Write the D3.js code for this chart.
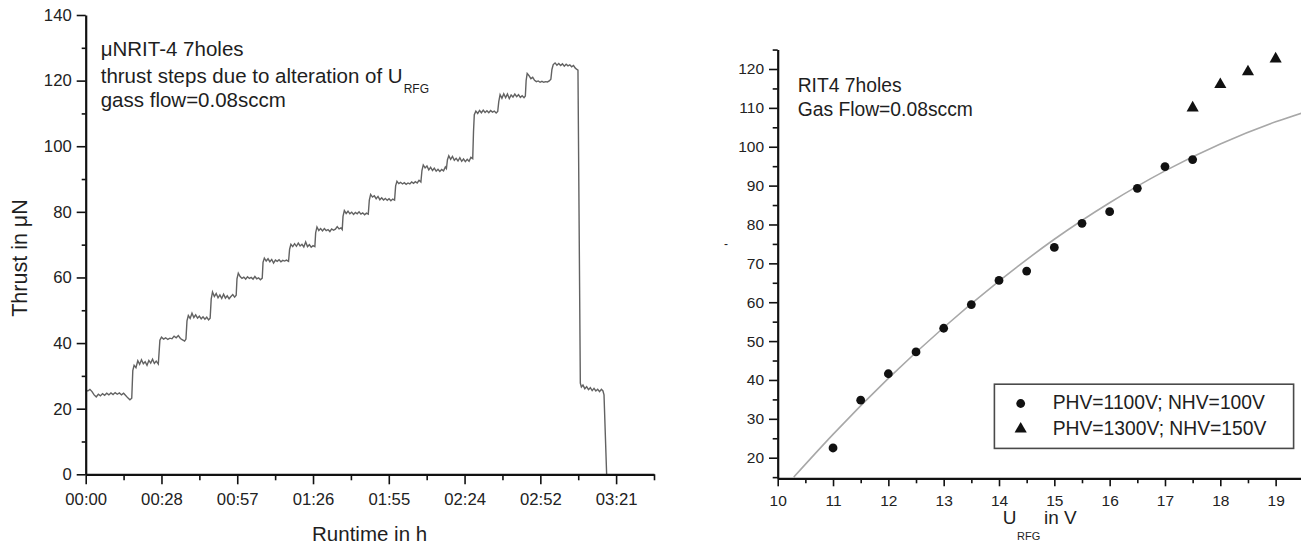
<!DOCTYPE html>
<html>
<head>
<meta charset="utf-8">
<script src="https://cdn.jsdelivr.net/npm/d3@7"></script>
<style>
  body { margin: 0; background: #fff; }
  svg { display: block; font-family: "Liberation Sans", Arial, sans-serif; }
  .axis path, .axis line { stroke: #111; }
  .axis text { fill: #222; font-family: "Liberation Sans", Arial, sans-serif; }
</style>
</head>
<body>
<div id="chart"></div>
<script>
// ---- left panel: thrust trace over runtime (minutes, μN) ----
const thrustTrace = [
    // base level before the first step
    [0, 25.8], [0.8, 25.4], [1.6, 25.9], [2.4, 25.2], [3.2, 24.2], [4, 23.6], [4.8, 24.4], [5.6, 23.9],
    [6.4, 24.6], [7.2, 24.1], [8, 24.7], [8.8, 24.2], [9.6, 24.8], [10.4, 24.3], [11.2, 24.9], [12, 24.4],
    [12.8, 24.8], [13.6, 24.2], [14.4, 24.7], [15.2, 24.0], [16, 23.3], [16.8, 22.7], [17.5, 23.2],
    // step 1
    [17.9, 31.6], [18.4, 33.2], [19.1, 32.5], [19.8, 34.6], [20.5, 33.5], [21.2, 34.9], [21.9, 33.7], [22.6, 34.3],
    [23.3, 33.2], [24, 34.7], [24.7, 33.9], [25.4, 35.1], [26.1, 33.8], [26.8, 34.5], [27.6, 33.6],
    // step 2
    [28.2, 40.9], [28.8, 41.8], [29.6, 41.2], [30.4, 41.6], [31.2, 41.1], [32, 41.5], [32.8, 41.3], [33.6, 42.1],
    [34.4, 41.6], [35.2, 42.3], [36, 41.4], [36.8, 41.0], [37.6, 40.6], [38.1, 41.2],
    // step 3
    [38.5, 46.8], [39, 48.4], [39.7, 47.5], [40.4, 49.1], [41.1, 47.8], [41.8, 48.6], [42.5, 47.6], [43.2, 48.2],
    [43.9, 47.4], [44.6, 48.0], [45.3, 47.3], [46, 47.9], [46.7, 47.1], [47.3, 47.6],
    // step 4
    [47.7, 53.4], [48.2, 55.6], [48.9, 54.2], [49.6, 55.1], [50.3, 53.8], [51, 54.7], [51.7, 53.6], [52.4, 54.9],
    [53.1, 53.7], [53.8, 54.4], [54.5, 53.5], [55.2, 54.2], [55.9, 54.8], [56.6, 54.0], [57.2, 54.6],
    // step 5
    [57.5, 59.6], [58, 61.3], [58.7, 60.3], [59.4, 59.7], [60.1, 60.1], [60.8, 59.5], [61.5, 60.2], [62.2, 59.7],
    [62.9, 60.0], [63.6, 59.5], [64.3, 60.3], [65, 59.6], [65.7, 59.9], [66.4, 59.3], [67.1, 59.8],
    // step 6
    [67.4, 64.6], [67.9, 65.9], [68.6, 65.0], [69.3, 65.7], [70, 64.8], [70.7, 65.5], [71.4, 64.4], [72.1, 65.3],
    [72.8, 64.9], [73.5, 65.4], [74.2, 64.8], [74.9, 65.2], [75.6, 65.0], [76.3, 65.3], [77.1, 64.9],
    // step 7
    [77.5, 68.6], [78, 70.1], [78.7, 69.4], [79.4, 70.3], [80.1, 69.5], [80.8, 70.5], [81.5, 69.6], [82.2, 70.1],
    [82.9, 69.3], [83.6, 70.8], [84.3, 69.4], [85, 70.0], [85.7, 69.2], [86.4, 69.7], [87.1, 69.4],
    // step 8
    [87.4, 73.6], [87.9, 75.4], [88.6, 74.3], [89.3, 74.9], [90, 74.2], [90.7, 74.9], [91.4, 74.3], [92.1, 74.6],
    [92.8, 74.0], [93.5, 74.8], [94.2, 74.4], [94.9, 74.7], [95.6, 75.5], [96.3, 74.8], [97, 75.1], [97.5, 74.6],
    // step 9
    [97.8, 78.6], [98.3, 80.4], [99, 79.5], [99.7, 80.2], [100.4, 79.4], [101.1, 79.9], [101.8, 79.2], [102.5, 79.8],
    [103.2, 79.4], [103.9, 80.0], [104.6, 79.3], [105.3, 79.7], [106, 79.1], [106.7, 79.6], [107.4, 79.3],
    // step 10
    [107.8, 83.6], [108.3, 85.3], [109, 84.5], [109.7, 84.9], [110.4, 84.0], [111.1, 84.7], [111.8, 83.7], [112.5, 84.3],
    [113.2, 83.6], [113.9, 84.1], [114.6, 83.5], [115.3, 84.0], [116, 83.4], [116.7, 83.9], [117.4, 83.6],
    // step 11
    [117.8, 87.9], [118.3, 89.3], [119, 88.6], [119.7, 89.0], [120.4, 88.5], [121.1, 88.9], [121.8, 88.4], [122.5, 88.8],
    [123.2, 88.5], [123.9, 89.1], [124.6, 88.7], [125.3, 89.2], [126, 88.8], [126.7, 89.6], [127.4, 89.1],
    // step 12
    [127.8, 92.6], [128.3, 94.3], [129, 93.4], [129.7, 94.0], [130.4, 92.8], [131.1, 93.6], [131.8, 92.6], [132.5, 93.3],
    [133.2, 92.4], [133.9, 93.0], [134.6, 92.3], [135.3, 92.9], [136, 92.5], [136.7, 93.7], [137.1, 93.2],
    // step 13
    [137.5, 95.9], [138, 97.1], [138.7, 96.0], [139.4, 96.9], [140.1, 95.7], [140.8, 96.3], [141.5, 95.5], [142.2, 96.5],
    [142.9, 95.4], [143.6, 96.1], [144.3, 95.3], [145, 96.0], [145.7, 95.4], [146.4, 96.6], [147.1, 96.2],
    // step 14
    [147.4, 104.5], [147.7, 109.6], [148.3, 110.7], [149, 110.0], [149.7, 110.9], [150.4, 110.2], [151.1, 111.0], [151.8, 110.3],
    [152.5, 110.8], [153.2, 110.2], [153.9, 110.9], [154.6, 110.4], [155.3, 110.7], [156, 110.1], [156.6, 110.6],
    // step 15
    [157, 113.6], [157.5, 115.7], [158.2, 114.6], [158.9, 116.0], [159.6, 114.8], [160.3, 115.9], [161, 114.5], [161.7, 115.6],
    [162.4, 115.0], [163.1, 115.9], [163.8, 115.1], [164.5, 115.7], [165.2, 114.9], [165.9, 115.4], [166.6, 114.8], [167.1, 115.3],
    // step 16
    [167.4, 120.0], [167.8, 122.2], [168.5, 121.5], [169.2, 120.6], [169.9, 121.0], [170.6, 120.1], [171.3, 119.7], [172, 119.9],
    [172.7, 119.5], [173.4, 119.8], [174.1, 119.5], [174.8, 119.7], [175.5, 119.6], [176.2, 119.9], [176.8, 120.4],
    // step 17
    [177.2, 123.4], [177.7, 124.9], [178.4, 125.4], [179.1, 124.7], [179.8, 125.2], [180.5, 124.6], [181.2, 125.1], [181.9, 124.4],
    [182.6, 125.0], [183.3, 124.5], [184, 124.8], [184.7, 124.2], [185.4, 124.6], [186.1, 123.8], [186.7, 123.4], [187.1, 123.2],
    // beam off, then gas off
    [188, 27.8], [188.4, 26.6], [189, 27.2], [189.7, 26.1], [190.4, 26.7], [191.1, 25.8], [191.8, 26.4], [192.5, 25.5],
    [193.2, 26.2], [193.9, 25.4], [194.6, 25.9], [195.3, 25.2], [196, 25.9], [196.6, 25.4], [197, 24.2], [198, 0]
];
const runtimeTicks = [0, 28.8, 57.6, 86.4, 115.2, 144, 172.8, 201.6];
const runtimeTickLabels = ["00:00", "00:28", "00:57", "01:26", "01:55", "02:24", "02:52", "03:21"];
const runtimeMinorTicks = [14.4, 43.2, 72, 100.8, 129.6, 158.4, 187.2, 216];
const thrustTicks = [0, 20, 40, 60, 80, 100, 120, 140];
const thrustMinorTicks = [10, 30, 50, 70, 90, 110, 130];

// ---- right panel: thrust vs U_RFG ----
const urfgLow = [11, 11.5, 12, 12.5, 13, 13.5, 14, 14.5, 15, 15.5, 16, 16.5, 17, 17.5];
const thrustLow = [22.5, 34.8, 41.6, 47.2, 53.3, 59.4, 65.6, 68.0, 74.1, 80.3, 83.3, 89.3, 94.9, 96.7];
const urfgHigh = [17.5, 18, 18.5, 19];
const thrustHigh = [110.0, 116.0, 119.3, 122.6];
const fitUrfg = [10.29, 11, 12, 13, 14, 15, 16, 17, 18, 19, 19.5];
const fitThrust = [15, 26, 40.4, 53.5, 65.4, 76.2, 85.6, 93.8, 100.7, 106.4, 108.8];
const urfgTicks = [10, 11, 12, 13, 14, 15, 16, 17, 18, 19];
const urfgMinorTicks = [10.5, 11.5, 12.5, 13.5, 14.5, 15.5, 16.5, 17.5, 18.5, 19.5];
const rightThrustTicks = [20, 30, 40, 50, 60, 70, 80, 90, 100, 110, 120];
const rightThrustMinorTicks = [15, 25, 35, 45, 55, 65, 75, 85, 95, 105, 115, 125];
const legendLabels = ["PHV=1100V; NHV=100V", "PHV=1300V; NHV=150V"];

document.addEventListener('DOMContentLoaded', function () {
    const width = 1301;
    const height = 550;
    const ink = "#1e1e1e";

    const svg = d3.select("#chart")
        .append("svg")
        .attr("width", width)
        .attr("height", height);

    // draws major + minor ticks, styled like the original plot program
    function drawAxis(g, axisFn, scale, major, minor, fmt, majorLen, minorLen, fontSize) {
        g.append("g")
            .attr("class", "axis")
            .call(axisFn(scale).tickValues(minor).tickSize(minorLen).tickSizeOuter(0).tickFormat(""))
            .call(s => s.select(".domain").remove())
            .selectAll("line").attr("stroke-width", 1.6);
        const a = g.append("g")
            .attr("class", "axis")
            .call(axisFn(scale).tickValues(major).tickSize(majorLen).tickSizeOuter(0).tickPadding(5).tickFormat(fmt));
        a.select(".domain").attr("stroke-width", 2.2);
        a.selectAll("line").attr("stroke-width", 1.6);
        a.selectAll("text").style("font-size", fontSize + "px");
        return a;
    }

    // ================= left panel =================
    const xL = d3.scaleLinear().domain([0, 216]).range([85.7, 654]);
    const yL = d3.scaleLinear().domain([0, 140]).range([474.3, 15]);
    const left = svg.append("g");

    left.append("path")
        .datum(thrustTrace)
        .attr("fill", "none")
        .attr("stroke", "#626262")
        .attr("stroke-width", 1.4)
        .attr("d", d3.line().x(d => xL(d[0])).y(d => yL(d[1])));

    const lx = left.append("g").attr("transform", `translate(0,${yL(0)})`);
    drawAxis(lx, d3.axisBottom, xL, runtimeTicks, runtimeMinorTicks,
        (d, i) => runtimeTickLabels[i], 10, 6, 16.7)
        .selectAll("text").attr("dy", "0.95em");
    const ly = left.append("g").attr("transform", `translate(${xL(0)},0)`);
    drawAxis(ly, d3.axisLeft, yL, thrustTicks, thrustMinorTicks, d3.format("d"), 9, 4, 16.7);

    left.append("text")
        .attr("x", 369.6).attr("y", 540.5)
        .attr("text-anchor", "middle")
        .attr("fill", ink)
        .style("font-size", "20.5px")
        .text("Runtime in h");
    left.append("text")
        .attr("transform", "translate(27,258) rotate(-90)")
        .attr("text-anchor", "middle")
        .attr("fill", ink)
        .style("font-size", "21.5px")
        .text("Thrust in μN");

    const note = left.append("text").attr("fill", ink).style("font-size", "20.5px");
    note.append("tspan").attr("x", 100.7).attr("y", 56).text("μNRIT-4 7holes");
    note.append("tspan").attr("x", 100.7).attr("y", 82.7).text("thrust steps due to alteration of U");
    note.append("tspan").attr("dx", 1).attr("y", 92.7).style("font-size", "12px").text("RFG");
    note.append("tspan").attr("x", 100.7).attr("y", 107.3).text("gass flow=0.08sccm");

    // ================= right panel =================
    const xR = d3.scaleLinear().domain([10, 19.5]).range([777.7, 1303.3]);
    const yR = d3.scaleLinear().domain([20, 120]).range([457.7, 69]);
    const yBottom = 14.7, yTop = 125;
    const right = svg.append("g");

    svg.append("defs").append("clipPath").attr("id", "clipR")
        .append("rect")
        .attr("x", xR(10)).attr("y", yR(yTop))
        .attr("width", width - xR(10)).attr("height", yR(yBottom) - yR(yTop));

    const fitPts = fitUrfg.map((u, i) => [u, fitThrust[i]]);
    right.append("path")
        .datum(fitPts)
        .attr("clip-path", "url(#clipR)")
        .attr("fill", "none")
        .attr("stroke", "#a8a8a8")
        .attr("stroke-width", 1.6)
        .attr("d", d3.line().curve(d3.curveMonotoneX).x(d => xR(d[0])).y(d => yR(d[1])));

    right.append("g").selectAll("circle")
        .data(urfgLow.map((u, i) => [u, thrustLow[i]]))
        .enter().append("circle")
        .attr("cx", d => xR(d[0]))
        .attr("cy", d => yR(d[1]))
        .attr("r", 4.4)
        .attr("fill", "#111");

    const tri = d3.symbol().type(d3.symbolTriangle).size(64);
    right.append("g").selectAll("path")
        .data(urfgHigh.map((u, i) => [u, thrustHigh[i]]))
        .enter().append("path")
        .attr("transform", d => `translate(${xR(d[0])},${yR(d[1])})`)
        .attr("d", tri)
        .attr("fill", "#111");

    const yScaleFull = yR.copy().domain([yBottom, yTop]).range([yR(yBottom), yR(yTop)]);
    const rx = right.append("g").attr("transform", `translate(0,${yR(yBottom)})`);
    drawAxis(rx, d3.axisBottom, xR, urfgTicks, urfgMinorTicks, d3.format("d"), 8, 5, 15.5)
        .selectAll("text").attr("dy", "0.95em");
    const ry = right.append("g").attr("transform", `translate(${xR(10)},0)`);
    drawAxis(ry, d3.axisLeft, yScaleFull, rightThrustTicks, rightThrustMinorTicks, d3.format("d"), 8.7, 5, 15.5);

    // stray mark where the y title would be
    right.append("text")
        .attr("x", 726).attr("y", 248)
        .attr("text-anchor", "middle")
        .attr("fill", ink)
        .style("font-size", "12px")
        .text("-");

    const xt = right.append("text").attr("fill", ink).style("font-size", "19px");
    xt.append("tspan").attr("x", 1002.7).attr("y", 524).text("U");
    xt.append("tspan").attr("x", 1017).attr("y", 540).style("font-size", "11px").text("RFG");
    xt.append("tspan").attr("x", 1044).attr("y", 524).text("in V");

    const rnote = right.append("text").attr("fill", ink).style("font-size", "19.3px");
    rnote.append("tspan").attr("x", 797.7).attr("y", 91.7).text("RIT4 7holes");
    rnote.append("tspan").attr("x", 797.7).attr("y", 116).text("Gas Flow=0.08sccm");

    // legend
    const legend = right.append("g");
    legend.append("rect")
        .attr("x", 994.4).attr("y", 384.2)
        .attr("width", 299.2).attr("height", 64.2)
        .attr("fill", "#fff")
        .attr("stroke", "#4a4a4a")
        .attr("stroke-width", 1.6);
    const rows = legend.selectAll("g.row")
        .data(legendLabels)
        .enter().append("g")
        .attr("class", "row")
        .attr("transform", (d, i) => `translate(0,${i * 25.4})`);
    rows.each(function (d, i) {
        const row = d3.select(this);
        if (i === 0) {
            row.append("circle").attr("cx", 1020.7).attr("cy", 403.5).attr("r", 4.4).attr("fill", "#111");
        } else {
            row.append("path").attr("transform", "translate(1020.7,403.5)").attr("d", tri).attr("fill", "#111");
        }
        row.append("text")
            .attr("x", 1052.7).attr("y", 409.3)
            .attr("fill", ink)
            .style("font-size", "19.3px")
            .text(d);
    });
});
</script>
</body>
</html>
